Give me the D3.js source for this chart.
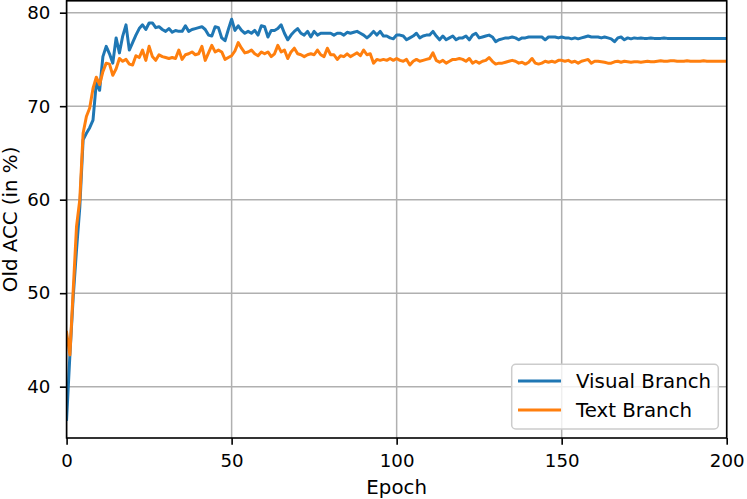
<!DOCTYPE html>
<html><head><meta charset="utf-8">
<script src="https://cdn.jsdelivr.net/npm/d3@7"></script>
<style>body{margin:0;background:#fff}svg{display:block}text{font-family:"DejaVu Sans",sans-serif}</style>
</head><body><svg id="c" width="747" height="499"></svg>
<script>
const epochs = d3.range(0, 201);
const visualBranch = [
36.5,43.4,49.6,54.6,59.2,66.4,67.1,67.7,68.5,72.5,
71.7,75.3,76.4,75.6,74.6,77.3,75.7,77.5,78.7,76.0,
76.8,77.6,78.3,78.7,78.2,78.9,78.9,78.4,78.5,78.2,
78.0,78.3,77.9,78.1,78.0,78.0,78.6,78.0,78.2,78.3,
78.4,78.5,78.2,77.6,77.5,78.5,78.4,77.3,77.0,78.2,
79.3,78.1,78.6,78.1,77.8,78.0,77.8,78.1,77.6,78.6,
78.5,77.4,78.1,78.1,78.3,78.7,77.8,77.1,77.6,78.0,
78.3,77.8,77.6,78.0,77.4,78.0,77.6,77.8,77.8,77.8,
77.8,77.6,77.8,77.8,77.6,77.9,77.8,77.9,78.0,77.8,
77.6,77.3,77.6,78.0,77.6,78.0,77.5,77.5,77.3,77.2,
77.6,77.6,77.5,77.1,77.3,77.5,77.8,77.3,77.5,77.6,
77.6,78.0,77.5,77.1,77.5,77.1,77.3,77.5,77.1,77.3,
77.3,77.5,77.1,77.6,77.8,77.3,77.4,77.5,77.6,77.4,
76.9,77.1,77.2,77.3,77.3,77.4,77.3,77.1,77.3,77.3,
77.4,77.4,77.4,77.4,77.4,77.1,77.4,77.4,77.4,77.3,
77.4,77.3,77.3,77.2,77.3,77.2,77.3,77.4,77.5,77.4,
77.4,77.4,77.3,77.4,77.3,77.2,76.9,77.3,77.4,77.1,
77.3,77.2,77.3,77.25,77.3,77.25,77.25,77.3,77.25,77.25,
77.25,77.3,77.25,77.25,77.25,77.25,77.25,77.25,77.25,77.25,
77.25,77.25,77.25,77.25,77.25,77.25,77.25,77.25,77.25,77.25,
77.25];
const textBranch = [
45.8,43.4,50.3,57.1,60.0,67.1,68.9,69.8,71.9,73.1,
72.3,73.7,74.6,74.5,73.3,74.0,75.1,74.8,75.0,74.5,
74.4,75.4,75.2,76.0,74.9,76.4,75.3,74.9,75.5,75.3,
75.2,75.1,75.2,75.1,76.0,75.0,75.5,75.6,75.8,75.5,
75.6,76.4,74.9,75.7,76.5,75.8,76.0,75.8,75.0,75.2,
75.4,75.9,76.8,76.2,75.7,75.8,76.0,75.6,75.4,75.8,
75.6,75.8,75.3,75.6,76.5,75.8,76.0,75.1,75.8,76.2,
75.6,75.5,75.3,75.5,75.6,75.5,76.0,75.5,75.3,76.2,
75.5,75.5,75.0,75.4,75.3,75.6,75.3,75.5,75.7,75.4,
76.0,75.5,75.6,74.6,75.0,74.9,75.0,74.9,75.1,74.9,
75.1,74.9,74.8,75.0,74.4,74.8,75.0,74.8,74.9,75.0,
75.1,75.7,74.9,74.7,74.9,74.6,74.8,75.0,75.0,75.1,
75.0,74.8,75.1,74.6,74.8,74.6,74.8,74.9,75.2,74.8,
74.5,74.6,74.6,74.7,74.8,74.9,74.8,74.6,74.7,74.5,
74.7,75.1,74.6,74.5,74.6,74.8,74.7,74.8,74.7,74.9,
74.9,74.8,74.9,74.7,74.8,74.6,74.8,74.9,75.0,74.6,
74.8,74.8,74.75,74.7,74.6,74.6,74.75,74.8,74.7,74.8,
74.75,74.7,74.75,74.75,74.7,74.75,74.8,74.75,74.75,74.8,
74.85,74.8,74.8,74.85,74.85,74.8,74.8,74.8,74.85,74.8,
74.8,74.8,74.8,74.85,74.8,74.8,74.8,74.8,74.8,74.8,
74.8];
const xTicks = [0, 50, 100, 150, 200];
const yTicks = [40, 50, 60, 70, 80];
const seriesNames = ["Visual Branch", "Text Branch"];
const colors = ["#1f77b4", "#ff7f0e"];

const L = 66.6, R = 726.7, T = 0.8, B = 438;
const svg = d3.select("#c");
const x = d3.scaleLinear().domain([0, 200]).range([L, R]);
const y = d3.scaleLinear().domain([34.51, 81.27]).range([B, T]);
const fsTick = 18.2, fsLab = 19.8;

// grid
svg.append("g").selectAll("line").data(xTicks).join("line")
  .attr("x1", d => x(d)).attr("x2", d => x(d)).attr("y1", T).attr("y2", B)
  .attr("stroke", "#b0b0b0").attr("stroke-width", 1.5);
svg.append("g").selectAll("line").data(yTicks).join("line")
  .attr("y1", d => y(d)).attr("y2", d => y(d)).attr("x1", L).attr("x2", R)
  .attr("stroke", "#b0b0b0").attr("stroke-width", 1.5);

// lines
svg.append("clipPath").attr("id", "clp").append("rect")
  .attr("x", L).attr("y", T).attr("width", R - L).attr("height", B - T);
const series = [visualBranch, textBranch];
series.forEach((s, i) => {
  svg.append("path").datum(s)
    .attr("clip-path", "url(#clp)")
    .attr("fill", "none").attr("stroke", colors[i]).attr("stroke-width", 3)
    .attr("stroke-linejoin", "round").attr("stroke-linecap", "square")
    .attr("d", d3.line().x((d, j) => x(epochs[j])).y(d => y(d)));
});

// axes
const xAxis = svg.append("g").attr("transform", `translate(0,${B})`)
  .call(d3.axisBottom(x).tickValues(xTicks).tickSize(6.7).tickPadding(9.5).tickFormat(d3.format("d")));
const yAxis = svg.append("g").attr("transform", `translate(${L},0)`)
  .call(d3.axisLeft(y).tickValues(yTicks).tickSize(6.7).tickPadding(9.5).tickFormat(d3.format("d")));
[xAxis, yAxis].forEach(a => {
  a.select(".domain").remove();
  a.selectAll(".tick line").attr("stroke", "#000").attr("stroke-width", 1.6);
  a.selectAll(".tick text").attr("fill", "#000").style("font-size", fsTick + "px").style("font-family", "DejaVu Sans");
});
// spines
svg.append("rect").attr("x", L).attr("y", T).attr("width", R - L).attr("height", B - T)
  .attr("fill", "none").attr("stroke", "#000").attr("stroke-width", 1.6);

// labels
svg.append("text").attr("x", (L + R) / 2).attr("y", 494).attr("text-anchor", "middle")
  .style("font-size", fsLab + "px").text("Epoch");
svg.append("text").attr("transform", `translate(16.5,${(T + B) / 2}) rotate(-90)`)
  .attr("text-anchor", "middle").style("font-size", fsLab + "px").text("Old ACC (in %)");

// legend
const lg = svg.append("g");
lg.append("rect").attr("x", 511.7).attr("y", 364.3).attr("width", 206.6).attr("height", 64.7)
  .attr("rx", 4).attr("fill", "#fff").attr("fill-opacity", 0.8).attr("stroke", "#cccccc").attr("stroke-width", 1.5);
seriesNames.forEach((n, i) => {
  const yy = 381 + i * 29;
  lg.append("line").attr("x1", 518).attr("x2", 561).attr("y1", yy).attr("y2", yy)
    .attr("stroke", colors[i]).attr("stroke-width", 3);
  lg.append("text").attr("x", 576).attr("y", yy + 7).style("font-size", fsLab + "px").text(n);
});
</script></body></html>
